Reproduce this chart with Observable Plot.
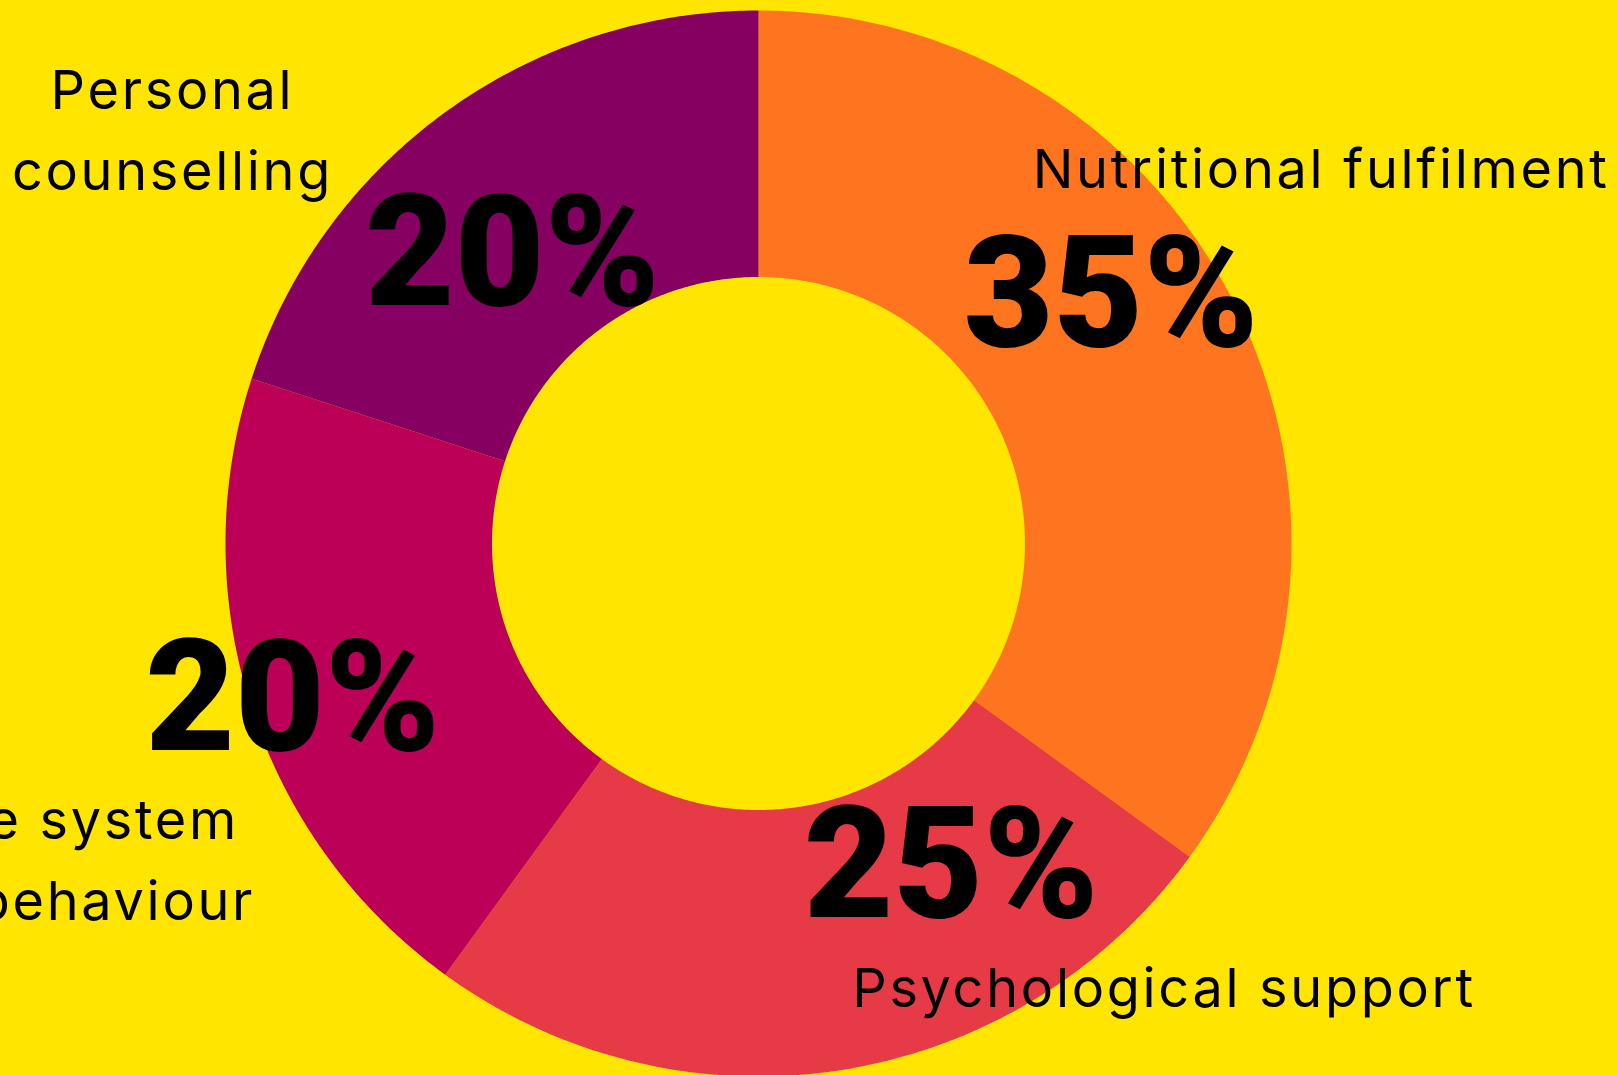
<!DOCTYPE html>
<html><head><meta charset="utf-8">
<script src="https://cdn.jsdelivr.net/npm/d3@7"></script>
<script src="https://cdn.jsdelivr.net/npm/@observablehq/plot@0.6"></script>
<style>
html,body{margin:0;padding:0;background:#FFE500;overflow:hidden}
#chart svg{display:block}
g[font-size="54"]{letter-spacing:2.7px}
g[font-size="155"]{letter-spacing:0px}
</style></head><body><div id="chart"></div>
<script>
// ---- data ----
const categories = ["Nutritional fulfilment", "Psychological support", "Immune system and health behaviour", "Personal counselling"];
const shares = [35, 25, 20, 20];
const categoryLabels = ["Nutritional fulfilment", "Psychological support", "Immune system\nhealth behaviour", "Personal\ncounselling"];
const palette = ["#FF751F", "#E73A47", "#BC0057", "#850060"];

// ---- layout ----
const W = 1618, H = 1075, cx = 758, cy = 543, R = 533;
const innerRatio = 0.5;
// label anchors in polar form relative to the pie (degrees clockwise from top, radius in outer-radius units)
const pctLabelPolar = [[60.8, 0.758], [152.7, 0.788], [246.1, 0.956], [314.1, 0.643]];
const catLabelPolar = [[57.7, 1.249], [138.8, 1.155], [243.0, 1.555], [301.1, 1.284]];

const total = d3.sum(shares);
let cum = 0;
const wedges = [];
categories.forEach((c, i) => {
  const a0 = cum / total * 2 * Math.PI; cum += shares[i];
  const a1 = cum / total * 2 * Math.PI;
  const n = Math.max(8, Math.ceil((a1 - a0) / (Math.PI / 360)));
  for (let k = 0; k <= n; k++) { const a = a0 + (a1 - a0) * k / n; wedges.push({cat: c, x: Math.sin(a), y: Math.cos(a)}); }
  for (let k = n; k >= 0; k--) { const a = a0 + (a1 - a0) * k / n; wedges.push({cat: c, x: innerRatio * Math.sin(a), y: innerRatio * Math.cos(a)}); }
});
const polar = ([deg, r]) => { const a = deg * Math.PI / 180; return {x: r * Math.sin(a), y: r * Math.cos(a)}; };
const pctLabels = categories.map((c, i) => ({...polar(pctLabelPolar[i]), text: `${shares[i]}%`}));
const catLabels = categories.map((c, i) => ({...polar(catLabelPolar[i]), text: categoryLabels[i]}));

const chart = Plot.plot({
  width: W, height: H, margin: 0,
  style: {background: "#FFE500", overflow: "visible"},
  x: {domain: [-cx / R, (W - cx) / R], axis: null},
  y: {domain: [-(H - cy) / R, cy / R], axis: null},
  color: {domain: categories, range: palette},
  marks: [
    Plot.line(wedges, {x: "x", y: "y", z: "cat", fill: "cat", stroke: "none"}),
    Plot.text(pctLabels, {x: "x", y: "y", text: "text", fontSize: 155, fontWeight: 900, fontFamily: "Roboto", fill: "black", textAnchor: "middle", lineAnchor: "bottom"}),
    Plot.text(catLabels, {x: "x", y: "y", text: "text", fontSize: 54, fontWeight: 400, fontFamily: "Inter", fill: "black", textAnchor: "middle", lineAnchor: "bottom", lineHeight: 1.5})
  ]
});
document.getElementById("chart").appendChild(chart);
</script></body></html>
